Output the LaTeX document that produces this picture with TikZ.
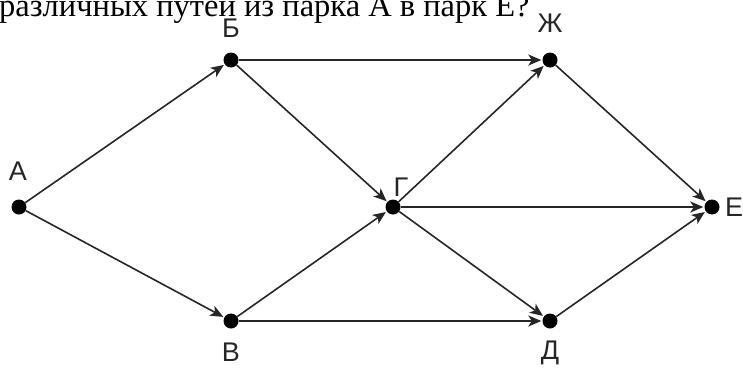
\documentclass[tikz,border=0pt]{standalone}
\usepackage{fontspec}
\setmainfont{Liberation Sans}
\newfontfamily\serifru{Liberation Serif}
\usetikzlibrary{arrows.meta}
\begin{document}
\begin{tikzpicture}[x=1pt,y=-1pt,
  vtx/.style={circle,fill=black,inner sep=0pt,minimum size=15pt},
  lbl/.style={font=\fontsize{27}{31}\selectfont,inner sep=0pt,text=black!85},
  edge/.style={draw=black!85,line width=1.6pt,-{Stealth[length=13pt,width=11pt,inset=3.5pt]},shorten >=1pt}]
\useasboundingbox (0,0) rectangle (743,367);
\begin{scope}
\clip (0,0) rectangle (743,367);
\node[anchor=base west,inner sep=0pt,font=\serifru\fontsize{32.5}{36}\selectfont] (q) at (-1,16) {различных путей из парка А в парк Е?};
\end{scope}
\node[vtx] (A) at (19,207) {};
\node[vtx] (B) at (231,60) {};
\node[vtx] (V) at (231,321) {};
\node[vtx] (G) at (393,207) {};
\node[vtx] (Zh) at (550,60) {};
\node[vtx] (E) at (712,207) {};
\node[vtx] (D) at (550,321) {};
\node[lbl] (lA) at (18,171) {A};
\node[lbl] (lB) at (231,28) {Б};
\node[lbl] (lV) at (231,352) {В};
\node[lbl] (lG) at (401,187) {Г};
\node[lbl] (lZh) at (550,23) {Ж};
\node[lbl] (lE) at (734,207) {Е};
\node[lbl] (lD) at (550,353) {Д};
\draw[edge] (A) -- (B);
\draw[edge] (A) -- (V);
\draw[edge] (B) -- (Zh);
\draw[edge] (B) -- (G);
\draw[edge] (V) -- (G);
\draw[edge] (V) -- (D);
\draw[edge] (G) -- (Zh);
\draw[edge] (G) -- (E);
\draw[edge] (G) -- (D);
\draw[edge] (Zh) -- (E);
\draw[edge] (D) -- (E);
\end{tikzpicture}
\end{document}
